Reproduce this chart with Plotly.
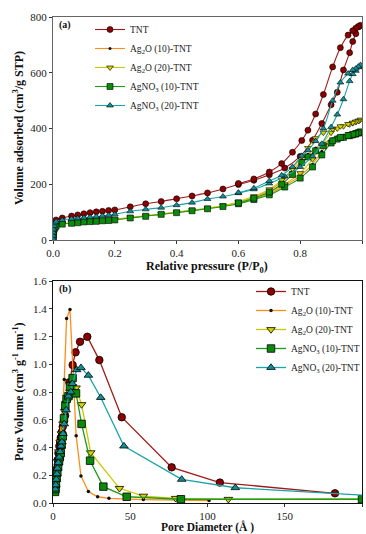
import plotly.graph_objects as go

# ---------------- (a) N2 isotherms ----------------
ads_p = [0.0002, 0.0005, 0.001, 0.002, 0.004, 0.007, 0.01, 0.03, 0.06, 0.08, 0.10, 0.12, 0.14,
         0.16, 0.18, 0.20, 0.25, 0.30, 0.35, 0.40, 0.45, 0.50, 0.55, 0.60, 0.65, 0.70, 0.75,
         0.80, 0.84, 0.87, 0.90, 0.92, 0.94, 0.96, 0.97, 0.98, 0.99]
des_p = [0.995, 0.988, 0.98, 0.97, 0.955, 0.93, 0.905, 0.875, 0.85, 0.825, 0.805, 0.775,
         0.74, 0.70, 0.65, 0.60]

tnt_ads = [5, 18, 30, 42, 55, 66, 72, 79, 86, 90, 94, 98, 101, 103, 106, 108, 119, 130, 138,
           148, 158, 169, 183, 199, 214, 234, 258, 300, 358, 418, 485, 530, 610, 672, 712, 740, 765]
tnt_des = [770, 766, 760, 751, 735, 690, 621, 522, 452, 394, 357, 315, 274, 244, 219, 203]

ag2o10_ads = [4, 12, 22, 32, 42, 48, 52, 58, 61, 63, 65, 67, 68, 70, 71, 73, 80, 86, 93, 99,
              106, 113, 122, 133, 148, 166, 195, 230, 272, 318, 358, 370, 376, 381, 384, 387, 390]
ag2o10_des = [393, 390, 388, 385, 381, 374, 363, 347, 330, 308, 288, 245, 208, 178, 153, 136]

ag2o20_ads = [4, 12, 22, 33, 43, 49, 53, 59, 62, 64, 66, 68, 69, 71, 72, 74, 81, 87, 94, 100,
              107, 114, 124, 135, 150, 170, 200, 240, 290, 340, 385, 400, 408, 415, 419, 423, 427]
ag2o20_des = [432, 428, 425, 421, 416, 408, 398, 385, 365, 330, 300, 255, 215, 182, 157, 138]

agno310_ads = [3, 10, 20, 30, 40, 46, 50, 57, 60, 62, 65, 66, 67, 69, 70, 72, 79, 85, 92, 98,
               105, 112, 120, 130, 145, 162, 190, 222, 262, 305, 348, 362, 368, 374, 377, 380, 384]
agno310_des = [388, 385, 382, 379, 375, 368, 356, 338, 320, 298, 278, 235, 200, 172, 150, 133]

agno320_ads = [5, 15, 27, 38, 50, 60, 66, 72, 76, 78, 80, 82, 84, 87, 89, 92, 103, 110, 116, 125,
               134, 147, 156, 168, 182, 203, 228, 262, 300, 345, 405, 450, 505, 570, 595, 607, 620]
agno320_des = [628, 622, 615, 610, 597, 565, 500, 400, 355, 322, 302, 262, 232, 212, 186, 170]

xa_tickvals = [0.0, 0.2, 0.4, 0.6, 0.8, 1.0]
xa_ticktext = ["0.0", "0.2", "0.4", "0.6", "0.8", "1.2"]
ya_tickvals = [0, 200, 400, 600, 800]

# ---------------- (b) pore size distribution ----------------
tnt_d = [1.8, 2.2, 2.6, 3.0, 3.5, 4.1, 4.6, 5.0, 5.6, 6.3, 7.0, 7.8, 9.0, 10.6, 12.7, 14.6,
         17.5, 22.2, 30.0, 44.5, 76.8, 108.0, 182.5]
tnt_pv = [0.12, 0.19, 0.25, 0.31, 0.36, 0.41, 0.44, 0.47, 0.51, 0.55, 0.59, 0.63, 0.75, 0.87,
          0.995, 1.086, 1.162, 1.198, 1.03, 0.618, 0.257, 0.147, 0.07]

ag2o10_d = [1.5, 1.9, 2.4, 3.0, 3.7, 4.5, 5.4, 6.3, 7.3, 8.8, 11.0, 15.0, 18.1, 22.9, 28.9,
            36.2, 58.5, 101.0]
ag2o10_pv = [0.09, 0.15, 0.23, 0.31, 0.40, 0.48, 0.57, 0.68, 0.89, 1.33, 1.395, 0.485, 0.195,
             0.083, 0.045, 0.034, 0.025, 0.018]

ag2o20_d = [1.6, 2.0, 2.5, 3.1, 3.8, 4.6, 5.5, 6.5, 7.6, 8.4, 9.3, 11.0, 12.5, 14.9, 18.5,
            24.4, 43.0, 58.5, 79.4, 113.5, 210.0]
ag2o20_pv = [0.10, 0.16, 0.23, 0.30, 0.37, 0.44, 0.50, 0.57, 0.66, 0.72, 0.76, 0.80, 0.84,
             0.83, 0.71, 0.363, 0.106, 0.05, 0.034, 0.027, 0.03]

agno310_d = [1.3, 1.6, 1.9, 2.3, 2.8, 3.3, 3.9, 4.4, 5.0, 5.6, 6.3, 7.1, 8.0, 8.8, 10.0, 11.0,
             12.7, 14.9, 18.5, 24.0, 32.6, 47.7, 82.8, 200.0]
agno310_pv = [0.08, 0.10, 0.14, 0.18, 0.22, 0.26, 0.30, 0.33, 0.36, 0.42, 0.48, 0.61, 0.70,
              0.75, 0.77, 0.84, 0.90, 0.79, 0.57, 0.305, 0.118, 0.045, 0.027, 0.027]

agno320_d = [1.5, 1.8, 2.1, 2.5, 2.9, 3.4, 4.0, 4.6, 5.2, 5.8, 6.5, 7.3, 8.5, 10.0, 11.5, 12.5,
             15.3, 18.1, 22.9, 30.9, 45.9, 83.3, 118.0, 210.0]
agno320_pv = [0.10, 0.13, 0.17, 0.21, 0.25, 0.29, 0.33, 0.37, 0.41, 0.44, 0.50, 0.57, 0.67,
              0.77, 0.80, 0.86, 0.96, 0.975, 0.92, 0.76, 0.41, 0.17, 0.11, 0.05]

xb_tickvals = [0, 50, 100, 150, 200]
yb_tickvals = [0, 0.2, 0.4, 0.6, 0.8, 1.0, 1.2, 1.4, 1.6]

names = ["TNT", "Ag<sub>2</sub>O (10)-TNT", "Ag<sub>2</sub>O (20)-TNT",
         "AgNO<sub>3</sub> (10)-TNT", "AgNO<sub>3</sub> (20)-TNT"]

styles = [
    dict(line="#9E1B1B", fill="#8B0000", symbol="circle"),
    dict(line="#FF8C1A", fill="#111111", symbol="circle"),
    dict(line="#C8C800", fill="#D4D400", symbol="triangle-down"),
    dict(line="#1E9A1E", fill="#0A8A0A", symbol="square"),
    dict(line="#1AA3A8", fill="#108F96", symbol="triangle-up"),
]

iso = [(tnt_ads, tnt_des), (ag2o10_ads, ag2o10_des), (ag2o20_ads, ag2o20_des),
       (agno310_ads, agno310_des), (agno320_ads, agno320_des)]
psd = [(tnt_d, tnt_pv), (ag2o10_d, ag2o10_pv), (ag2o20_d, ag2o20_pv),
       (agno310_d, agno310_pv), (agno320_d, agno320_pv)]

fig = go.Figure()
SERIF = "Liberation Serif"

for i, (nm, st) in enumerate(zip(names, styles)):
    small = (i == 1)
    mk_a = dict(symbol=st["symbol"], size=3 if small else 6, color=st["fill"],
                line=dict(color="black", width=0 if small else 0.6))
    ads, des = iso[i]
    fig.add_trace(go.Scatter(x=ads_p, y=ads, mode="lines+markers", name=nm,
                             line=dict(color=st["line"], width=1.1, shape="spline"),
                             marker=mk_a, legend="legend", legendgroup="a%d" % i,
                             xaxis="x", yaxis="y"))
    fig.add_trace(go.Scatter(x=des_p, y=des, mode="lines+markers", name=nm,
                             line=dict(color=st["line"], width=1.1, shape="spline"),
                             marker=mk_a, showlegend=False, legendgroup="a%d" % i,
                             xaxis="x", yaxis="y"))

for i, (nm, st) in enumerate(zip(names, styles)):
    small = (i == 1)
    mk_b = dict(symbol=st["symbol"], size=3.5 if small else 7.5, color=st["fill"],
                line=dict(color="black", width=0 if small else 0.8))
    d, pv = psd[i]
    fig.add_trace(go.Scatter(x=d, y=pv, mode="lines+markers", name=nm,
                             line=dict(color=st["line"], width=1.3),
                             marker=mk_b, legend="legend2", legendgroup="b%d" % i,
                             xaxis="x2", yaxis="y2"))

W, H = 366, 534
xd = [53 / W, 362 / W]
yd_a = [1 - 240 / H, 1 - 17 / H]
yd_b = [1 - 503 / H, 1 - 281 / H]

tickfont = dict(family=SERIF, size=11, color="#222")
axis_common = dict(showgrid=False, zeroline=False, ticks="outside", ticklen=3,
                   tickcolor="#333", tickfont=tickfont, mirror=True, showline=True,
                   automargin=False)

fig.update_layout(
    width=W, height=H, margin=dict(l=0, r=0, t=0, b=0, autoexpand=False),
    paper_bgcolor="white", plot_bgcolor="white",
    font=dict(family=SERIF, color="#222"),
    xaxis=dict(domain=xd, range=[0, 1.0], tickvals=xa_tickvals, ticktext=xa_ticktext,
               anchor="y", linecolor="#666", linewidth=1, **axis_common),
    yaxis=dict(domain=yd_a, range=[0, 800], tickvals=ya_tickvals, anchor="x",
               linecolor="#666", linewidth=1, **axis_common),
    xaxis2=dict(domain=xd, range=[0, 200], tickvals=xb_tickvals, anchor="y2",
                linecolor="#111", linewidth=1.2, **axis_common),
    yaxis2=dict(domain=yd_b, range=[0, 1.6], tickvals=yb_tickvals, tickformat=".1f",
                anchor="x2", linecolor="#111", linewidth=1.2, **axis_common),
    legend=dict(x=90 / W, y=1 - 15 / H, xanchor="left", yanchor="top",
                font=dict(family=SERIF, size=9.5, color="#222"), bgcolor="rgba(0,0,0,0)",
                tracegroupgap=0, itemwidth=30),
    legend2=dict(x=251 / W, y=1 - 277 / H, xanchor="left", yanchor="top",
                 font=dict(family=SERIF, size=9.5, color="#222"), bgcolor="rgba(0,0,0,0)",
                 tracegroupgap=0, itemwidth=30),
    showlegend=True,
)

ann_font = dict(family=SERIF, size=12, color="#111")
lab_font = dict(family=SERIF, size=10, color="#111")


def ann(text, xp, yp, font, angle=0, xanchor="center"):
    fig.add_annotation(text=text, x=xp / W, y=1 - yp / H, xref="paper", yref="paper",
                       showarrow=False, xanchor=xanchor, yanchor="middle",
                       textangle=angle, font=font)


ann("<b>(a)</b>", 57, 25, lab_font, xanchor="left")
ann("<b>(b)</b>", 57, 289, lab_font, xanchor="left")
ann("<b>Relative pressure (P/P<sub>0</sub>)</b>", 207, 267, ann_font)
ann("<b>Pore Diameter (Å )</b>", 207, 526.5, dict(family=SERIF, size=11.5, color="#111"))
ann("<b>Volume adsorbed (cm<sup>3</sup>/g STP)</b>", 18, 128, ann_font, angle=-90)
ann("<b>Pore Volume (cm<sup>3</sup> g<sup>-1</sup> nm<sup>-1</sup>)</b>", 18, 392, ann_font,
    angle=-90)

fig.write_html("out.html", config={"displayModeBar": False},
               post_script="document.body.style.margin='0px';document.body.style.padding='0px';")
